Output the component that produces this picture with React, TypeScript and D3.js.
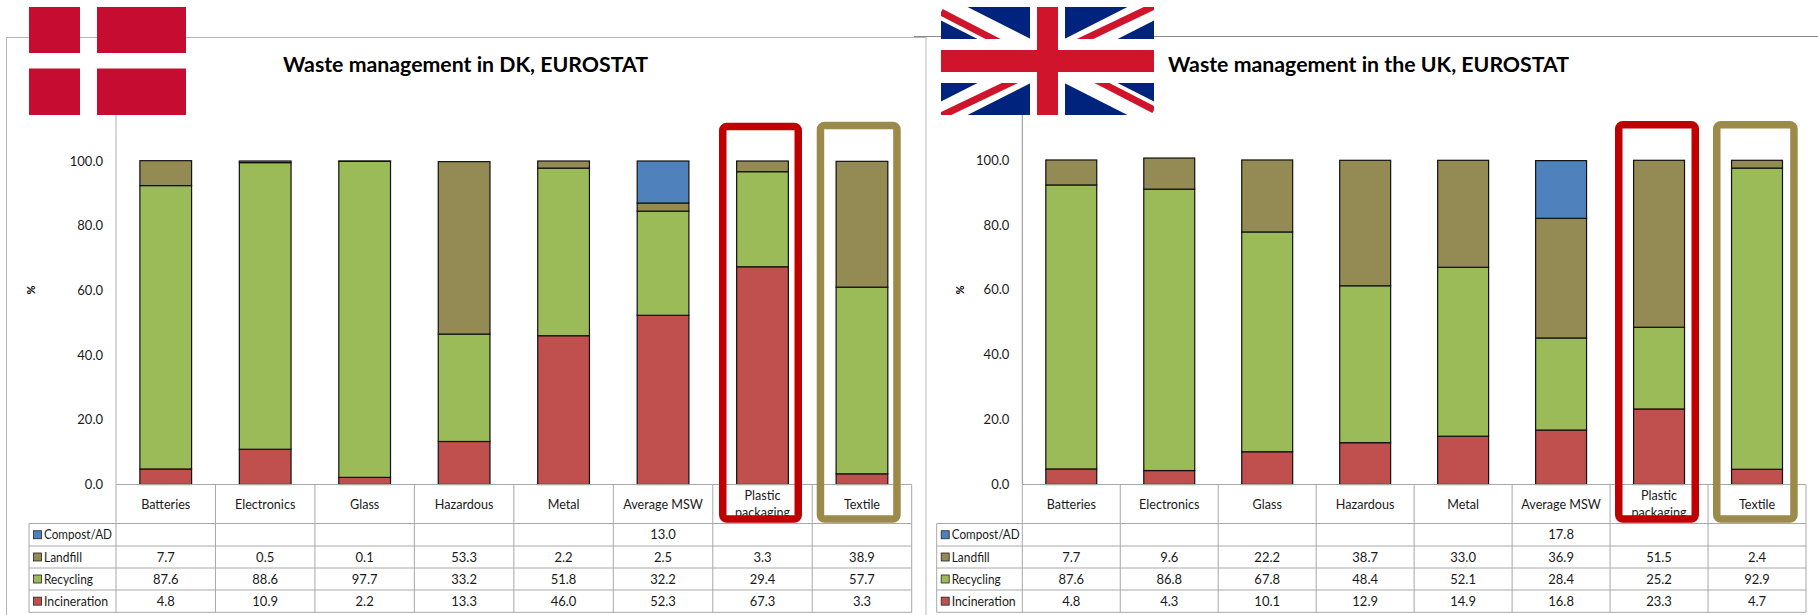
import React from "react";
import * as d3 from "d3";

// Waste streams and treatment routes shown in both panels
const categories = ["Batteries", "Electronics", "Glass", "Hazardous", "Metal", "Average MSW", "Plastic packaging", "Textile"];
const routes = ["Compost/AD", "Landfill", "Recycling", "Incineration"];

const dkCompost = [null, null, null, null, null, 13.0, null, null];
const dkLandfill = [7.7, 0.5, 0.1, 53.3, 2.2, 2.5, 3.3, 38.9];
const dkRecycling = [87.6, 88.6, 97.7, 33.2, 51.8, 32.2, 29.4, 57.7];
const dkIncineration = [4.8, 10.9, 2.2, 13.3, 46.0, 52.3, 67.3, 3.3];

const ukCompost = [null, null, null, null, null, 17.8, null, null];
const ukLandfill = [7.7, 9.6, 22.2, 38.7, 33.0, 36.9, 51.5, 2.4];
const ukRecycling = [87.6, 86.8, 67.8, 48.4, 52.1, 28.4, 25.2, 92.9];
const ukIncineration = [4.8, 4.3, 10.1, 12.9, 14.9, 16.8, 23.3, 4.7];

const routeColors: Record<string, string> = {
  "Compost/AD": "#4f81bd",
  Landfill: "#948a54",
  Recycling: "#9bbb59",
  Incineration: "#c0504d",
};

// Legend labels are fitted to these widths so they stay inside the first table column
const routeLabelWidths: Record<string, number> = {
  "Compost/AD": 68,
  Landfill: 38,
  Recycling: 49,
  Incineration: 64,
};

const FONT = "Lato, 'Open Sans', sans-serif";
const TEXT = "#1a1a1a";
const GRID = "#a8a8a8";

type Num = number | null;
type PanelProps = {
  title: string;
  titleX: number;
  left: number;
  right: number;
  legendLeft: number;
  yTop: number;
  percentX: number;
  axisColor: string;
  rows: Record<string, Num[]>;
  boxes: { cat: string; color: string; x0: number; x1: number; top: number }[];
};

function Panel({ title, titleX, left, right, legendLeft, yTop, percentX, axisColor, rows, boxes }: PanelProps) {
  const y0 = 484.5;
  const rowEdges = [484.5, 523.5, 546, 568, 590, 612.3];

  const x = d3.scaleBand<string>().domain(categories).range([left, right]).paddingInner(0.48).paddingOuter(0.24);
  const y = d3.scaleLinear().domain([0, 100]).range([y0, yTop]);
  const step = x.step();
  const colLeft = (i: number) => left + i * step;

  const stackRows = categories.map((c, i) => {
    const o: Record<string, number | string> = { c };
    routes.forEach((r) => (o[r] = rows[r][i] ?? 0));
    return o;
  });
  const series = d3
    .stack<Record<string, number | string>>()
    .keys(["Incineration", "Recycling", "Landfill", "Compost/AD"])(stackRows);

  return (
    <g fontFamily={FONT} fill={TEXT}>
      <text x={titleX} y={72} fontSize={21.3} fontWeight={700} fill="#000">
        {title}
      </text>

      {/* value axis */}
      <line x1={left} x2={left} y1={100} y2={y0} stroke={axisColor} strokeWidth={1} />
      {y.ticks(5).map((t) => (
        <text key={t} x={left - 13} y={y(t) + 4.5} fontSize={13} textAnchor="end">
          {d3.format(".1f")(t)}
        </text>
      ))}
      <text transform={`translate(${percentX},290) rotate(-90)`} fontSize={11} fontWeight={700} textAnchor="middle" fill="#000">
        %
      </text>

      {/* stacked columns */}
      {series.map((s) =>
        s.map((d, i) =>
          d[1] - d[0] > 0 ? (
            <rect
              key={s.key + i}
              x={x(categories[i])}
              width={x.bandwidth()}
              y={y(d[1])}
              height={y(d[0]) - y(d[1])}
              fill={routeColors[s.key]}
              stroke="#111"
              strokeWidth={1.2}
            />
          ) : null,
        ),
      )}

      {/* data table */}
      <g stroke={GRID} strokeWidth={1} fill="none">
        <line x1={left} x2={right} y1={rowEdges[0]} y2={rowEdges[0]} />
        {rowEdges.slice(1).map((e) => (
          <line key={e} x1={legendLeft} x2={right} y1={e} y2={e} />
        ))}
        {categories.map((_, i) => (
          <line key={i} x1={colLeft(i)} x2={colLeft(i)} y1={rowEdges[0]} y2={rowEdges[5]} />
        ))}
        <line x1={right} x2={right} y1={rowEdges[0]} y2={rowEdges[5]} />
        <line x1={legendLeft} x2={legendLeft} y1={rowEdges[1]} y2={rowEdges[5]} />
      </g>
      {categories.map((c, i) => {
        const cx = colLeft(i) + step / 2;
        const words = c === "Plastic packaging" ? c.split(" ") : [c];
        return words.length > 1 ? (
          <g key={c} fontSize={12.6} textAnchor="middle">
            <text x={cx} y={500}>
              {words[0]}
            </text>
            <text x={cx} y={517}>
              {words[1]}
            </text>
          </g>
        ) : (
          <text key={c} x={cx} y={508.5} fontSize={12.6} textAnchor="middle">
            {c}
          </text>
        );
      })}
      {routes.map((r, ri) => {
        const mid = (rowEdges[ri + 1] + rowEdges[ri + 2]) / 2;
        return (
          <g key={r}>
            <rect x={legendLeft + 4.5} y={mid - 4} width={8} height={8} fill={routeColors[r]} stroke="#222" strokeWidth={0.8} />
            <text x={legendLeft + 15} y={mid + 4.5} fontSize={13} textLength={routeLabelWidths[r]} lengthAdjust="spacingAndGlyphs">
              {r}
            </text>
            {rows[r].map((v, i) =>
              v == null ? null : (
                <text key={i} x={colLeft(i) + step / 2} y={mid + 4.5} fontSize={13} textAnchor="middle">
                  {d3.format(".1f")(v)}
                </text>
              ),
            )}
          </g>
        );
      })}

      {/* highlighted columns */}
      {boxes.map((b) => (
        <rect
          key={b.cat}
          x={b.x0 + 3.75}
          y={b.top + 3.75}
          width={b.x1 - b.x0 - 7.5}
          height={522.7 - b.top - 7.5}
          rx={4}
          fill="none"
          stroke={b.color}
          strokeWidth={7.5}
        />
      ))}
    </g>
  );
}

function DanishFlag() {
  return (
    <g fill="#c60c30">
      <rect x={29} y={7} width={51} height={46} />
      <rect x={97} y={7} width={89} height={46} />
      <rect x={29} y={68.5} width={51} height={46.5} />
      <rect x={97} y={68.5} width={89} height={46.5} />
    </g>
  );
}

function BritishFlag() {
  const [fx, fy, fw, fh] = [941, 7, 213, 108];
  const cx = 1047.5;
  const cy = 61;
  const red = "#cf142b";
  return (
    <g>
      <clipPath id="uk-flag-clip">
        <rect x={fx} y={fy} width={fw} height={fh} />
      </clipPath>
      <g clipPath="url(#uk-flag-clip)">
        <rect x={fx} y={fy} width={fw} height={fh} fill="#00247d" />
        <g stroke="#fff" strokeWidth={24}>
          <line x1={fx} y1={fy} x2={fx + fw} y2={fy + fh} />
          <line x1={fx} y1={fy + fh} x2={fx + fw} y2={fy} />
        </g>
        <g stroke={red} strokeWidth={7}>
          <line x1={fx} y1={fy + 5} x2={cx - 6} y2={cy + 3} />
          <line x1={cx + 6} y1={cy - 3} x2={fx + fw} y2={fy + fh - 5} />
          <line x1={fx} y1={fy + fh + 1} x2={cx - 6} y2={cy + 7} />
          <line x1={cx + 6} y1={cy - 7} x2={fx + fw} y2={fy - 1} />
        </g>
        <rect x={cx - 17.5} y={fy} width={35} height={fh} fill="#fff" />
        <rect x={fx} y={cy - 22} width={fw} height={44} fill="#fff" />
        <rect x={cx - 10.5} y={fy} width={21} height={fh} fill={red} />
        <rect x={fx} y={cy - 11} width={fw} height={22} fill={red} />
      </g>
    </g>
  );
}

export default function App() {
  const dkRows = { "Compost/AD": dkCompost, Landfill: dkLandfill, Recycling: dkRecycling, Incineration: dkIncineration };
  const ukRows = { "Compost/AD": ukCompost, Landfill: ukLandfill, Recycling: ukRecycling, Incineration: ukIncineration };
  return (
    <svg width={1818} height={615} style={{ position: "absolute", left: 0, top: 0, background: "#fff" }}>
      {/* chart frames */}
      <path d="M6.5 615V37.5H926" fill="none" stroke="#b4b4b4" strokeWidth={1} />
      <path d="M926 615V37" fill="none" stroke="#c4c4c4" strokeWidth={1.2} />
      <path d="M914 36.5H1818" fill="none" stroke="#8a8a8a" strokeWidth={1} />

      <Panel
        title="Waste management in DK, EUROSTAT"
        titleX={283}
        left={116}
        right={911.7}
        legendLeft={29}
        yTop={161}
        percentX={35}
        axisColor="#b0b0b0"
        rows={dkRows}
        boxes={[
          { cat: "Plastic packaging", color: "#c00000", x0: 719, x1: 802, top: 122.7 },
          { cat: "Textile", color: "#9c8a4b", x0: 816.7, x1: 900.7, top: 121.7 },
        ]}
      />
      <Panel
        title="Waste management in the UK, EUROSTAT"
        titleX={1168}
        left={1022.3}
        right={1806}
        legendLeft={936.7}
        yTop={160.3}
        percentX={964}
        axisColor="#909090"
        rows={ukRows}
        boxes={[
          { cat: "Plastic packaging", color: "#c00000", x0: 1615, x1: 1699, top: 121 },
          { cat: "Textile", color: "#9c8a4b", x0: 1713, x1: 1797.7, top: 121 },
        ]}
      />
      <DanishFlag />
      <BritishFlag />
    </svg>
  );
}
